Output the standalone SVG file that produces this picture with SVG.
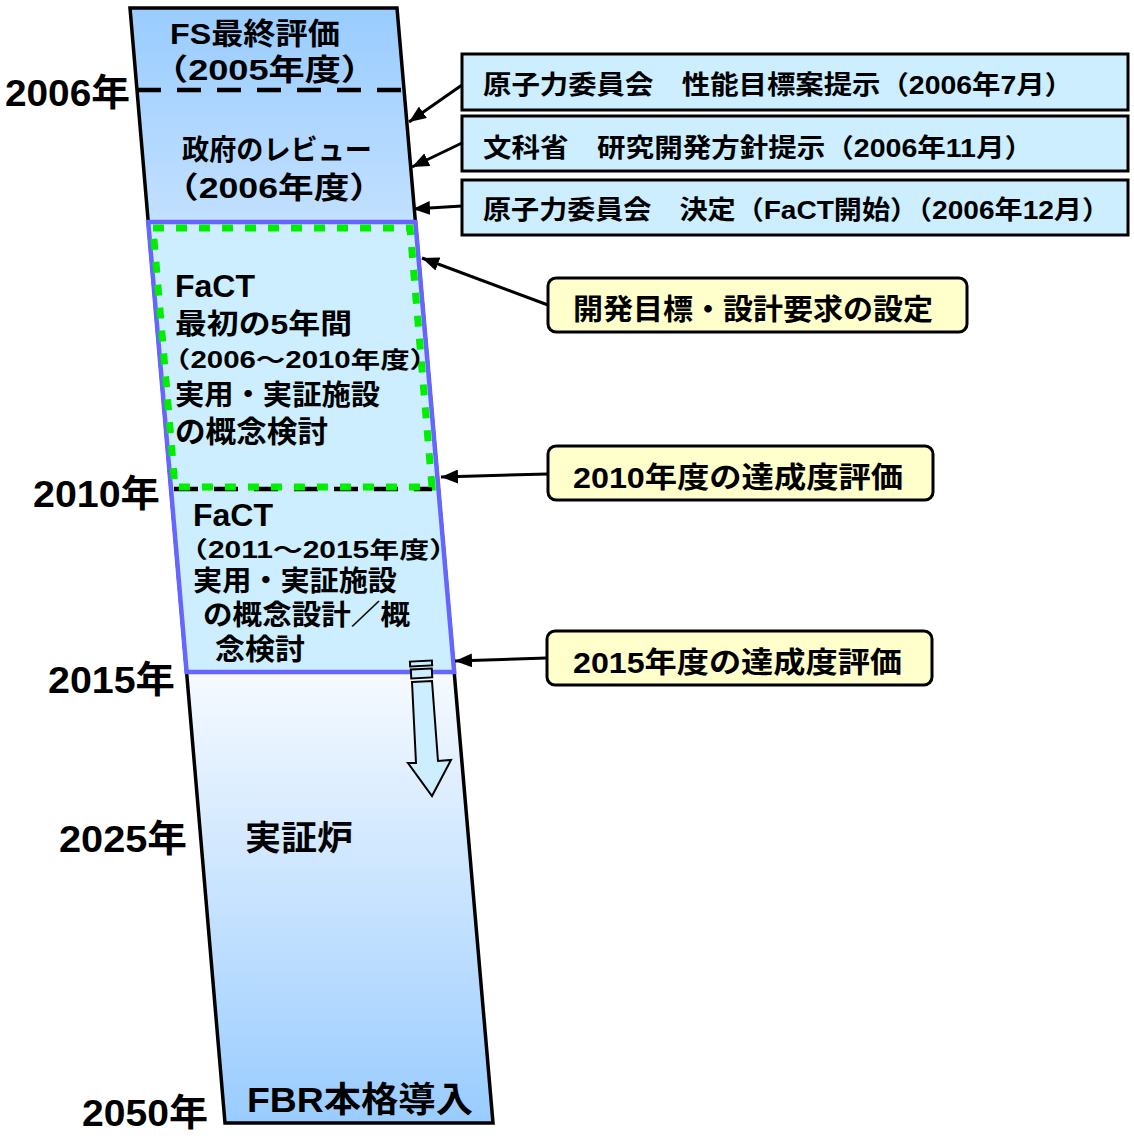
<svg xmlns="http://www.w3.org/2000/svg" width="1134" height="1139" viewBox="0 0 1134 1139">
<defs>
<linearGradient id="gTop" x1="0" y1="0" x2="0" y2="1">
<stop offset="0" stop-color="#99ccff"/>
<stop offset="1" stop-color="#c2e0ff"/>
</linearGradient>
<linearGradient id="gBot" x1="0" y1="0" x2="0" y2="1">
<stop offset="0" stop-color="#f6faff"/>
<stop offset="1" stop-color="#99ccff"/>
</linearGradient>
<marker id="ah" markerUnits="userSpaceOnUse" markerWidth="18" markerHeight="14" refX="17" refY="7" orient="auto">
<path d="M0,0 L17,7 L0,14 z" fill="#000"/>
</marker>
<style>
text{font-family:"Liberation Sans","Noto Sans CJK JP",sans-serif;font-weight:bold;fill:#000}
.yr{font-size:37px}
.lb{font-size:30px}
.bx{fill:#cceeff;stroke:#000;stroke-width:3}
.cb{fill:#ffffcc;stroke:#000;stroke-width:3}
.bt{font-size:26px}
.ct{font-size:29px}
.con{stroke:#000;stroke-width:3;fill:none;marker-end:url(#ah)}
</style>
</defs>
<rect width="1134" height="1139" fill="#fff"/>

<g id="column">
<polygon points="130,8 397,8 415.4,222 148.2,222" fill="url(#gTop)"/>
<polygon points="186.6,672 454.2,672 493,1123 225,1123" fill="url(#gBot)"/>
<polygon points="130,8 397,8 493,1123 225,1123" fill="none" stroke="#000" stroke-width="3.5"/>
<polygon id="fact" points="148.2,222 415.4,222 454.2,672 186.6,672" fill="#cceeff" stroke="#6666ff" stroke-width="4.5"/>
<line x1="137" y1="90" x2="404" y2="90" stroke="#000" stroke-width="4.5" stroke-dasharray="24 16"/>
<line x1="174" y1="489" x2="432" y2="489" stroke="#000" stroke-width="4.5" stroke-dasharray="24 16"/>
<polygon points="153,228 410,228 432,487 175,487" fill="none" stroke="#00ee00" stroke-width="7" stroke-dasharray="11 12"/>
</g>

<g id="arrow-down">
<rect x="410" y="661" width="22" height="5" fill="#cceeff" stroke="#000" stroke-width="2" transform="rotate(-3 421 663)"/>
<rect x="411" y="669" width="21" height="9" fill="#cceeff" stroke="#000" stroke-width="2" transform="rotate(-3 421 673)"/>
<polygon points="412,682 432,681 438,761 451,760 432,796 408,763 416,763" fill="#cceeff" stroke="#000" stroke-width="2"/>
</g>

<g id="year-labels">
<text class="yr" x="5" y="106" textLength="125" lengthAdjust="spacingAndGlyphs">2006年</text>
<text class="yr" x="33" y="507" textLength="127" lengthAdjust="spacingAndGlyphs">2010年</text>
<text class="yr" x="48" y="693" textLength="127" lengthAdjust="spacingAndGlyphs">2015年</text>
<text class="yr" x="59" y="852" textLength="128" lengthAdjust="spacingAndGlyphs">2025年</text>
<text class="yr" x="82" y="1126" textLength="126" lengthAdjust="spacingAndGlyphs">2050年</text>
</g>

<g id="fs">
<text class="lb" x="170" y="44" textLength="170" lengthAdjust="spacingAndGlyphs">FS最終評価</text>
<text class="lb" x="152" y="80" textLength="225" lengthAdjust="spacingAndGlyphs">（2005年度）</text>
</g>
<g id="review">
<text x="182" y="160" font-size="28" textLength="190" lengthAdjust="spacingAndGlyphs">政府のレビュー</text>
<text class="lb" x="163" y="198" textLength="222" lengthAdjust="spacingAndGlyphs">（2006年度）</text>
</g>
<g id="fact1">
<text x="175" y="297" font-size="32">FaCT</text>
<text x="175" y="334" font-size="28" textLength="177" lengthAdjust="spacingAndGlyphs">最初の5年間</text>
<text x="161" y="368" font-size="23" textLength="278" lengthAdjust="spacingAndGlyphs">（2006～2010年度）</text>
<text x="175" y="405" font-size="28" textLength="205" lengthAdjust="spacingAndGlyphs">実用・実証施設</text>
<text x="175" y="442" font-size="30" textLength="153" lengthAdjust="spacingAndGlyphs">の概念検討</text>
</g>
<g id="fact2">
<text x="193" y="526" font-size="32">FaCT</text>
<text x="178" y="558" font-size="23" textLength="281" lengthAdjust="spacingAndGlyphs">（2011～2015年度）</text>
<text x="193" y="591" font-size="28" textLength="204" lengthAdjust="spacingAndGlyphs">実用・実証施設</text>
<text x="203" y="625" font-size="28" textLength="207" lengthAdjust="spacingAndGlyphs">の概念設計／概</text>
<text x="215" y="660" font-size="29" textLength="90" lengthAdjust="spacingAndGlyphs">念検討</text>
</g>
<g id="demo">
<text x="245" y="850" font-size="34" textLength="108" lengthAdjust="spacingAndGlyphs">実証炉</text>
</g>
<g id="fbr">
<text x="247" y="1112" font-size="35" textLength="226" lengthAdjust="spacingAndGlyphs">FBR本格導入</text>
</g>

<g id="box1">
<rect class="bx" x="462" y="54" width="666" height="56"/>
<text class="bt" x="483" y="94" textLength="590" lengthAdjust="spacingAndGlyphs">原子力委員会　性能目標案提示（2006年7月）</text>
</g>
<g id="box2">
<rect class="bx" x="462" y="116" width="666" height="55"/>
<text class="bt" x="483" y="157" textLength="550" lengthAdjust="spacingAndGlyphs">文科省　研究開発方針提示（2006年11月）</text>
</g>
<g id="box3">
<rect class="bx" x="462" y="180" width="666" height="55"/>
<text class="bt" x="483" y="219" textLength="627" lengthAdjust="spacingAndGlyphs">原子力委員会　決定（FaCT開始）（2006年12月）</text>
</g>

<g id="call1">
<rect class="cb" x="548" y="278" width="419" height="54" rx="8"/>
<text class="ct" x="573" y="320" textLength="360" lengthAdjust="spacingAndGlyphs">開発目標・設計要求の設定</text>
</g>
<g id="call2">
<rect class="cb" x="548" y="446" width="385" height="54" rx="8"/>
<text class="ct" x="573" y="488" textLength="330" lengthAdjust="spacingAndGlyphs">2010年度の達成度評価</text>
</g>
<g id="call3">
<rect class="cb" x="547" y="631" width="385" height="54" rx="8"/>
<text class="ct" x="573" y="673" textLength="329" lengthAdjust="spacingAndGlyphs">2015年度の達成度評価</text>
</g>

<g id="connectors">
<line class="con" x1="462" y1="85" x2="409" y2="122"/>
<line class="con" x1="462" y1="143" x2="412" y2="167"/>
<line class="con" x1="462" y1="206" x2="413" y2="209"/>
<line class="con" x1="548" y1="305" x2="422" y2="258"/>
<line class="con" x1="548" y1="474" x2="441" y2="477"/>
<line class="con" x1="547" y1="658" x2="455" y2="661"/>
</g>
</svg>
